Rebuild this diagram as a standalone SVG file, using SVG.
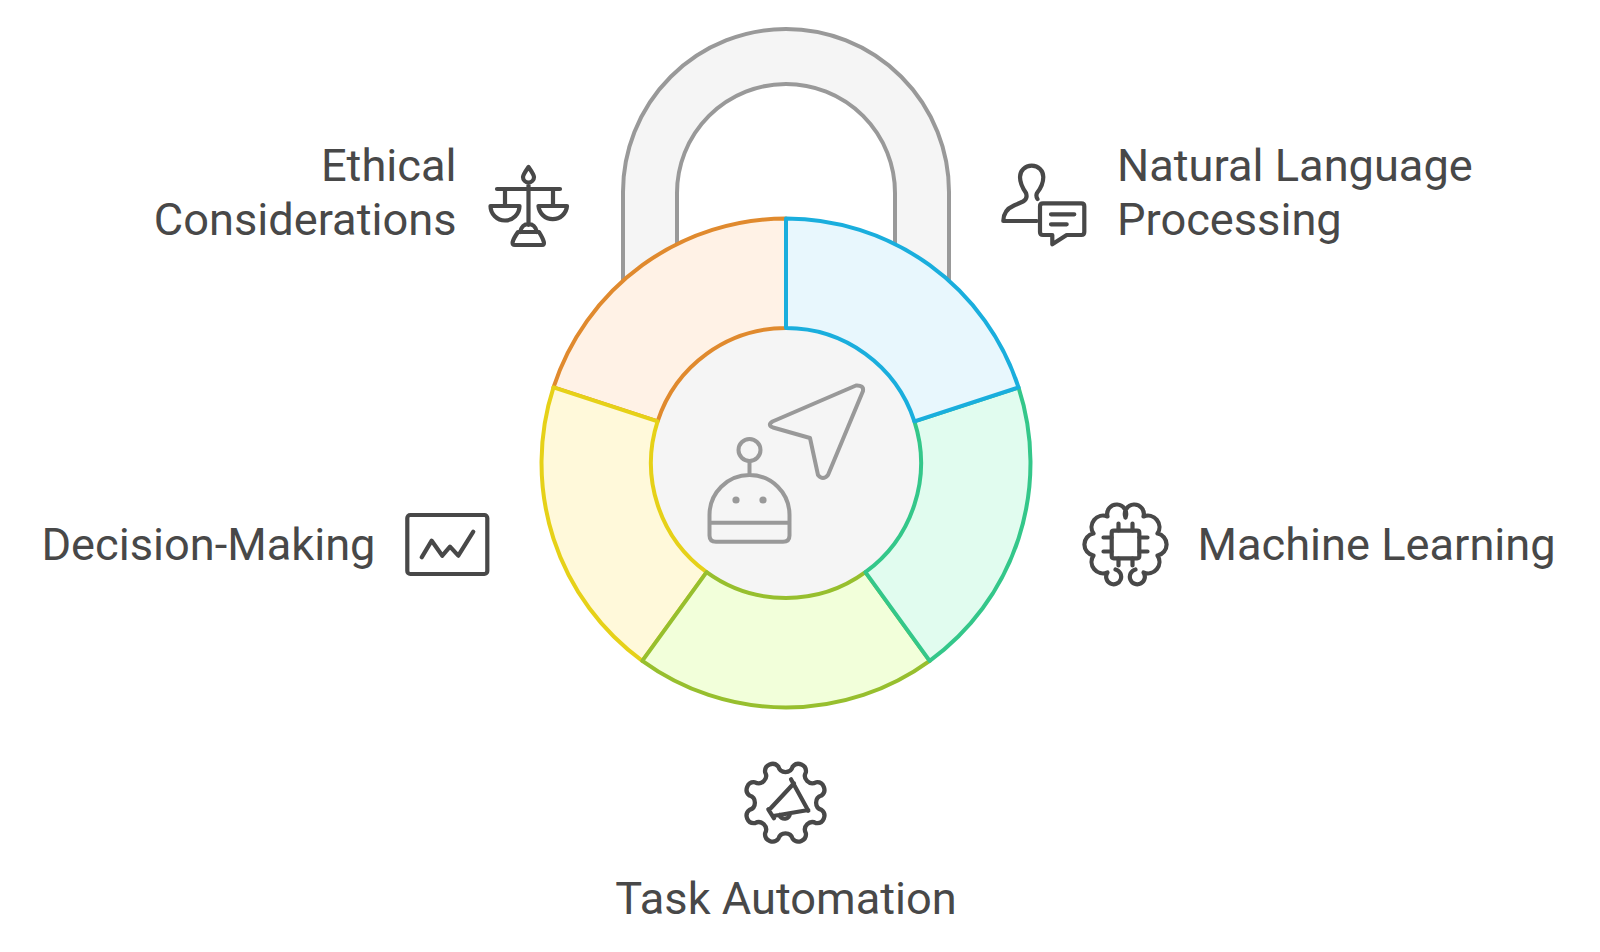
<svg xmlns="http://www.w3.org/2000/svg" width="1600" height="952" viewBox="0 0 1600 952">
<style>
text{font-family:Roboto,"Liberation Sans",sans-serif;font-size:45.2px;fill:#484848}
.s{stroke-width:4;stroke-linejoin:round}
.ic{fill:none;stroke:#484848;stroke-width:4.2;stroke-linecap:round;stroke-linejoin:round}
.hub{fill:none;stroke:#999;stroke-width:4;stroke-linecap:round;stroke-linejoin:round}
</style>
<rect width="1600" height="952" fill="#fff"/>
<g id="shackle"><path d="M623,280V192A163,163 0 0 1 949,192V280L895,244V193A109,109 0 0 0 677,193V244Z" fill="#f5f5f5"/><path d="M623,280V192A163,163 0 0 1 949,192V280M895,244V193A109,109 0 0 0 677,193V244" fill="none" stroke="#999" stroke-width="4"/></g>
<g id="hub"><circle cx="786" cy="463" r="135" fill="#f5f5f5"/>
<path class="hub" d="M856,385.5L772.5,421.5Q767,425 773,427.5L810,438L818,475Q823,481 828,475L863,391Q864,385 856,385.5Z"/>
<circle class="hub" cx="749.5" cy="450" r="11"/>
<path class="hub" d="M749.5,462V475M709.5,522.7H789.5M709.5,515A40,40 0 0 1 789.5,515V535.5Q789.5,541.7 783,541.7H716Q709.5,541.7 709.5,535.5Z"/>
<circle cx="736" cy="500" r="3.6" fill="#999"/><circle cx="763" cy="500" r="3.6" fill="#999"/></g>
<g id="ethical-considerations">
<path class="s" fill="#fff2e6" stroke="#e08a2e" d="M786,218.5A244.5,244.5 0 0 0 553.5,387.4L657.6,421.3A135,135 0 0 1 786,328Z"/>
<text x="456.5" y="180.5" text-anchor="end">Ethical</text><text x="456.5" y="235" text-anchor="end">Considerations</text>
<path class="ic" d="M528.5,167C525,172 523,175 523,177A5.5,5.5 0 0 0 534,177C534,175 532,172 528.5,167ZM528.5,183V225M497,189H560M505,189V206M553,189V206M490.5,206H519.5A14.5,14.5 0 0 1 490.5,206ZM538.5,206H567A14.3,14.3 0 0 1 538.5,206ZM520,232Q522,224 528.5,224Q535,224 537,232M518,232H539Q547,245 542,245H515Q509,245 518,232Z"/>
</g>
<g id="decision-making">
<path class="s" fill="#fff9da" stroke="#e6d118" d="M553.5,387.4A244.5,244.5 0 0 0 642.3,660.8L706.6,572.2A135,135 0 0 1 657.6,421.3Z"/>
<text x="375.5" y="560" text-anchor="end">Decision-Making</text>
<rect class="ic" x="407.3" y="515" width="80" height="59" rx="3"/>
<path class="ic" d="M421.7,557.3L431.7,540.7L442.3,555.7L450,546.7L458.3,555.7L473.3,531.7"/>
</g>
<g id="task-automation">
<path class="s" fill="#f2ffda" stroke="#97bf2e" d="M642.3,660.8A244.5,244.5 0 0 0 929.7,660.8L865.4,572.2A135,135 0 0 1 706.6,572.2Z"/>
<text x="786" y="914" text-anchor="middle">Task Automation</text>
<g transform="translate(785.5,802.7) scale(1.02)"><path class="ic" d="M7.02,-35.31a7.3,7.3 0 0 1 12.98,5.38a7.3,7.3 0 0 0 9.93,9.93a7.3,7.3 0 0 1 5.38,12.98a7.3,7.3 0 0 0 0,14.04a7.3,7.3 0 0 1 -5.38,12.98a7.3,7.3 0 0 0 -9.93,9.93a7.3,7.3 0 0 1 -12.98,5.38a7.3,7.3 0 0 0 -14.04,0a7.3,7.3 0 0 1 -12.98,-5.38a7.3,7.3 0 0 0 -9.93,-9.93a7.3,7.3 0 0 1 -5.38,-12.98a7.3,7.3 0 0 0 0,-14.04a7.3,7.3 0 0 1 5.38,-12.98a7.3,7.3 0 0 0 9.93,-9.93a7.3,7.3 0 0 1 12.98,-5.38a7.3,7.3 0 0 0 14.04,0Z"/></g>
<path class="ic" d="M768.3,809.3L774,818.3M791,779.3L808.3,810.7M770.7,808.3L794,783.3M773.3,816L808.3,810M779.3,815A5.5,5.5 0 0 0 790,813.3"/>
</g>
<g id="machine-learning">
<path class="s" fill="#e1fcef" stroke="#34c78a" d="M929.7,660.8A244.5,244.5 0 0 0 1018.5,387.4L914.4,421.3A135,135 0 0 1 865.4,572.2Z"/>
<text x="1197.5" y="560">Machine Learning</text>
<g transform="translate(1125.5,544.5)"><path class="ic" d="M0,-27A9.5,9.5 0 1 0 -18,-28A11.5,11.5 0 0 0 -32,-11A11.2,11.2 0 0 0 -32,11A11.5,11.5 0 0 0 -18,28A7.5,7.5 0 1 0 -10,25M0,-27A9.5,9.5 0 1 1 18,-28A11.5,11.5 0 0 1 32,-11A11.2,11.2 0 0 1 32,11A11.5,11.5 0 0 1 18,28A7.5,7.5 0 1 1 10,25"/>
<rect class="ic" x="-13.8" y="-13.8" width="27.6" height="27.6" rx="2"/>
<path class="ic" d="M-7,-21V-14M7,-21V-14M-7,14V21M7,14V21M-22,-7H-14M-22,7H-14M14,-7H22M14,7H22"/></g>
</g>
<g id="natural-language-processing">
<path class="s" fill="#e8f7fd" stroke="#1aaedd" d="M786,218.5A244.5,244.5 0 0 1 1018.5,387.4L914.4,421.3A135,135 0 0 0 786,328Z"/>
<text x="1117" y="180.5">Natural Language</text><text x="1117" y="235">Processing</text>
<path class="ic" d="M1037.5,199C1036,196.5 1036,195 1037,193C1041,188 1043.3,184 1043.3,177C1043.3,170.5 1038.5,165.7 1031.7,165.7C1025,165.7 1020,170.5 1020,177C1020,184 1022.5,188 1026,193Q1028,199 1023,201.5L1014,205.5C1007,208.5 1003.3,214 1003.3,221H1036.7"/>
<path class="ic" d="M1043,203.3H1081.3Q1084.3,203.3 1084.3,206.3V232Q1084.3,235 1081.3,235H1066.7L1052.3,244.3V235H1043Q1040,235 1040,232V206.3Q1040,203.3 1043,203.3ZM1051,214.3H1074.3M1051,224.3H1066.7"/>
</g>
</svg>
